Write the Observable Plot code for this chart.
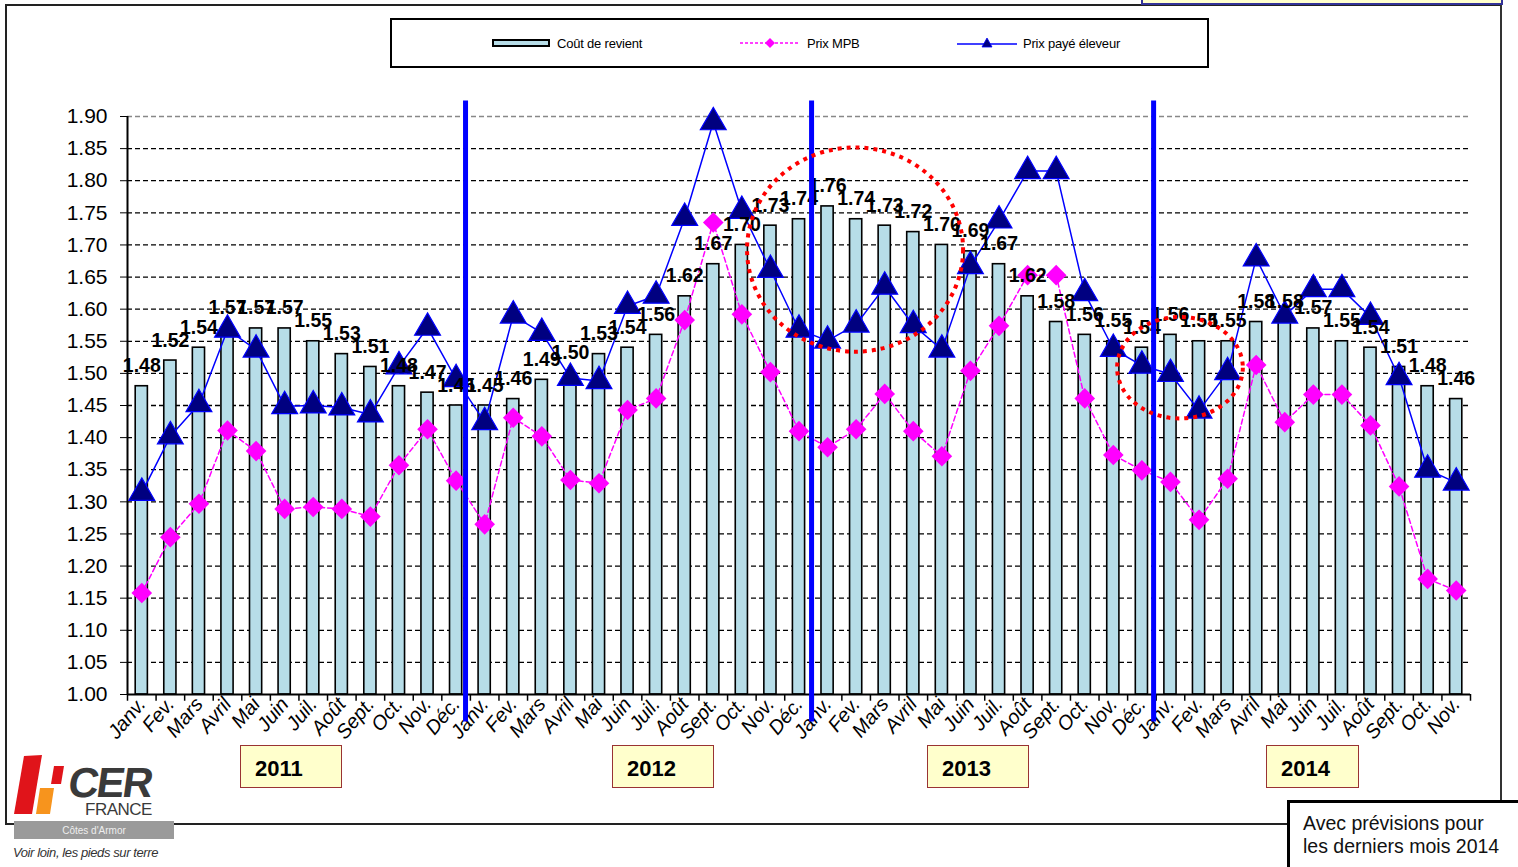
<!DOCTYPE html>
<html><head><meta charset="utf-8">
<script src="https://cdn.jsdelivr.net/npm/d3@7"></script>
<script src="https://cdn.jsdelivr.net/npm/@observablehq/plot@0.6"></script>
<style>
body{margin:0;background:#fff;font-family:Arial,"Liberation Sans",sans-serif;}
#wrap{position:relative;width:1518px;height:867px;overflow:hidden;background:#fff;}
#frame{position:absolute;left:5px;top:4px;width:1493px;height:817px;border:2px solid #222;border-right-color:#333;}
#topbox{position:absolute;left:1141px;top:-10px;width:358px;height:11px;background:#ffffcc;border:2px solid #333399;}
#chart{position:absolute;left:0;top:0;}
#legend{position:absolute;left:390px;top:18px;width:815px;height:46px;border:2px solid #000;background:#fff;font-size:13px;color:#000;}
#legend .it{position:absolute;top:0;height:46px;display:flex;align-items:center;white-space:nowrap;letter-spacing:-0.2px;}
.year{position:absolute;top:745px;height:43px;background:#ffffcc;border:1.5px solid #993333;font-weight:bold;font-size:22px;line-height:45px;box-sizing:border-box;padding-left:14px;}
#caption{position:absolute;left:1287px;top:800px;width:240px;height:80px;border-top:3px solid #000;border-left:3px solid #000;background:#fff;font-size:19.5px;line-height:23px;padding:9px 0 0 13px;box-sizing:border-box;color:#111;}
#logo{position:absolute;left:10px;top:752px;}
</style></head><body>
<div id="wrap">
<div id="frame"></div>
<div id="topbox"></div>
<div id="chart"></div>
<div id="legend">
  <div class="it" style="left:100px;"><svg width="60" height="10"><rect x="1" y="2" width="56" height="6" fill="#b7dde8" stroke="#000" stroke-width="2"/></svg><span style="margin-left:5px">Coût de revient</span></div>
  <div class="it" style="left:348px;"><svg width="62" height="14"><line x1="0" y1="7" x2="60" y2="7" stroke="#ff00ff" stroke-width="1.3" stroke-dasharray="3,2"/><path d="M30,2 L35,7 L30,12 L25,7Z" fill="#ff00ff"/></svg><span style="margin-left:5px">Prix MPB</span></div>
  <div class="it" style="left:565px;"><svg width="62" height="14"><line x1="0" y1="8" x2="60" y2="8" stroke="#0000ff" stroke-width="1.5"/><path d="M30,2 L35,11 L25,11Z" fill="#000080" stroke="#0000ff" stroke-width="0.8"/></svg><span style="margin-left:4px">Prix payé éleveur</span></div>
</div>
<div class="year" style="left:240px;width:102px;">2011</div>
<div class="year" style="left:612px;width:102px;">2012</div>
<div class="year" style="left:927px;width:102px;">2013</div>
<div class="year" style="left:1266px;width:93px;">2014</div>
<div id="caption">Avec prévisions pour<br>les derniers mois 2014</div>
<svg id="logo" width="170" height="112" viewBox="0 0 170 112">
  <path d="M14,4 L32,3 L22,62 L4,62 Z" fill="#e0141a"/>
  <path d="M30,36 L44,36 L40,62 L26,62 Z" fill="#f7941d"/>
  <path d="M44,14 L54,14 L51,32 L41,32 Z" fill="#e0141a"/>
  <text x="57" y="45" font-size="42" font-weight="bold" fill="#3a3a3a" font-family="Arial, Liberation Sans" letter-spacing="-2" transform="skewX(-8) translate(6,0)">CER</text>
  <text x="75" y="63" font-size="17" fill="#3a3a3a" font-family="Arial, Liberation Sans" letter-spacing="-0.5">FRANCE</text>
  <rect x="4" y="69" width="160" height="18" fill="#9a9a9a"/>
  <text x="84" y="82" font-size="10" fill="#eee" text-anchor="middle" font-family="Arial, Liberation Sans">Côtes d'Armor</text>
  <text x="3" y="105" font-size="13" font-style="italic" fill="#333" font-family="Arial, Liberation Sans" letter-spacing="-0.4">Voir loin, les pieds sur terre</text>
</svg>
</div>
<script>
// ---- data ----
const monthLabels = ["Janv.","Fev.","Mars","Avril","Mai","Juin","Juil.","Août","Sept.","Oct.","Nov.","Déc."];
const years = ["2011","2012","2013","2014"];
const monthsPerYear = [12,12,12,11];
const coutDeRevient = [
  1.48,1.52,1.54,1.57,1.57,1.57,1.55,1.53,1.51,1.48,1.47,1.45,
  1.45,1.46,1.49,1.50,1.53,1.54,1.56,1.62,1.67,1.70,1.73,1.74,
  1.76,1.74,1.73,1.72,1.70,1.69,1.67,1.62,1.58,1.56,1.55,1.54,
  1.56,1.55,1.55,1.58,1.58,1.57,1.55,1.54,1.51,1.48,1.46];
const prixMPB = [
  1.158,1.245,1.297,1.411,1.379,1.289,1.292,1.289,1.277,1.357,1.413,1.333,
  1.265,1.431,1.402,1.334,1.329,1.443,1.461,1.583,1.735,1.592,1.502,1.410,
  1.385,1.413,1.468,1.410,1.371,1.504,1.574,1.653,1.653,1.461,1.373,1.349,
  1.331,1.272,1.336,1.513,1.424,1.467,1.467,1.419,1.324,1.180,1.162];
const prixEleveur = [
  1.314,1.402,1.452,1.568,1.537,1.449,1.450,1.447,1.436,1.511,1.571,1.491,
  1.424,1.590,1.563,1.493,1.488,1.605,1.621,1.742,1.891,1.753,1.661,1.568,
  1.551,1.576,1.635,1.575,1.537,1.667,1.738,1.815,1.815,1.625,1.538,1.512,
  1.499,1.442,1.502,1.679,1.590,1.631,1.631,1.588,1.494,1.350,1.330];
const yTicks = [1.00,1.05,1.10,1.15,1.20,1.25,1.30,1.35,1.40,1.45,1.50,1.55,1.60,1.65,1.70,1.75,1.80,1.85,1.90];
// annotations (data units: month index, price)
const yearSeparators = [11.33, 23.44, 35.41];
const ellipses = [{cx: 24.98, cy: 1.692, rx: 3.78, ry: 0.159}, {cx: 36.35, cy: 1.508, rx: 2.2, ry: 0.079}];

// ---- table ----
const rows = [];
years.forEach((y, k) => { for (let m = 0; m < monthsPerYear[k]; m++) rows.push({i: rows.length, label: monthLabels[m]}); });
rows.forEach((r, i) => { r.cost = coutDeRevient[i]; r.mpb = prixMPB[i]; r.price = prixEleveur[i]; });
const idx = rows.map(r => r.i);
const boundaries = idx.map(i => i - 0.5).concat([idx.length - 0.5]);

const ellipseMark = (index, scales) => {
  const g = document.createElementNS("http://www.w3.org/2000/svg", "g");
  for (const e of ellipses) {
    const el = document.createElementNS("http://www.w3.org/2000/svg", "ellipse");
    const cx = scales.x(e.cx), cy = scales.y(e.cy);
    el.setAttribute("cx", cx); el.setAttribute("cy", cy);
    el.setAttribute("rx", Math.abs(scales.x(e.cx + e.rx) - cx));
    el.setAttribute("ry", Math.abs(scales.y(e.cy + e.ry) - cy));
    el.setAttribute("fill", "none"); el.setAttribute("stroke", "#ff0000");
    el.setAttribute("stroke-width", 4); el.setAttribute("stroke-dasharray", "4,5");
    g.appendChild(el);
  }
  return g;
};

const chart = Plot.plot({
  width: 1518, height: 867,
  marginLeft: 127, marginRight: 48, marginTop: 116, marginBottom: 173,
  style: {background: "transparent", fontFamily: "Arial, 'Liberation Sans', sans-serif", color: "#000"},
  x: {type: "linear", domain: [-0.5, 46.5], axis: null},
  y: {domain: [1, 1.9], axis: null},
  marks: [
    Plot.ruleY(yTicks.filter(t => t > 1), {y: d => d, x1: () => -0.5, x2: () => 46.5, stroke: d => d >= 1.9 ? "#888" : "#000", strokeWidth: 1.3, strokeDasharray: "5,3"}),
    Plot.rectY(rows, {x1: d => d.i - 0.5, x2: d => d.i + 0.5, y1: () => 1, y2: "cost", insetLeft: 8.2, insetRight: 8.2, fill: "#b7dde8", stroke: "#000", strokeWidth: 1.6}),
    Plot.axisY(yTicks, {tickSize: 7, tickPadding: 13, tickFormat: d => d.toFixed(2), fontSize: 21, stroke: "#000"}),
    Plot.axisX(idx, {tickSize: 0, tickPadding: 6, tickRotate: -50, tickFormat: i => rows[i].label, fontSize: 20, fontStyle: "italic"}),
    Plot.ruleX(boundaries, {x: d => d, y1: () => 1, y2: () => 0.9895, stroke: "#000", strokeWidth: 1.5}),
    Plot.ruleY([1], {x1: () => -0.5, x2: () => 46.5, stroke: "#000", strokeWidth: 2}),
    Plot.ruleX([-0.5], {y1: () => 1, y2: () => 1.9, stroke: "#000", strokeWidth: 2}),
    Plot.line(rows, {x: "i", y: "mpb", stroke: "#ff00ff", strokeWidth: 1.5, strokeDasharray: "5,3"}),
    Plot.line(rows, {x: "i", y: "price", stroke: "#0000ff", strokeWidth: 1.5}),
    Plot.dot(rows, {x: "i", y: "mpb", symbol: "diamond2", r: 9.3, fill: "#ff00ff", stroke: "none"}),
    Plot.dot(rows, {x: "i", y: "price", symbol: "triangle", r: 9.6, fill: "#000080", stroke: "#0000ff", strokeWidth: 1.2}),
    Plot.text(rows, {x: "i", y: "cost", text: d => d.cost.toFixed(2), dy: -14, lineAnchor: "bottom", fontWeight: "bold", fontSize: 19.5, fill: "#000"}),
    Plot.ruleX(yearSeparators, {x: d => d, y1: () => 0.957, y2: () => 1.924, stroke: "#0000ff", strokeWidth: 5}),
    ellipseMark
  ]
});
document.getElementById("chart").appendChild(chart);
</script>
</body></html>
